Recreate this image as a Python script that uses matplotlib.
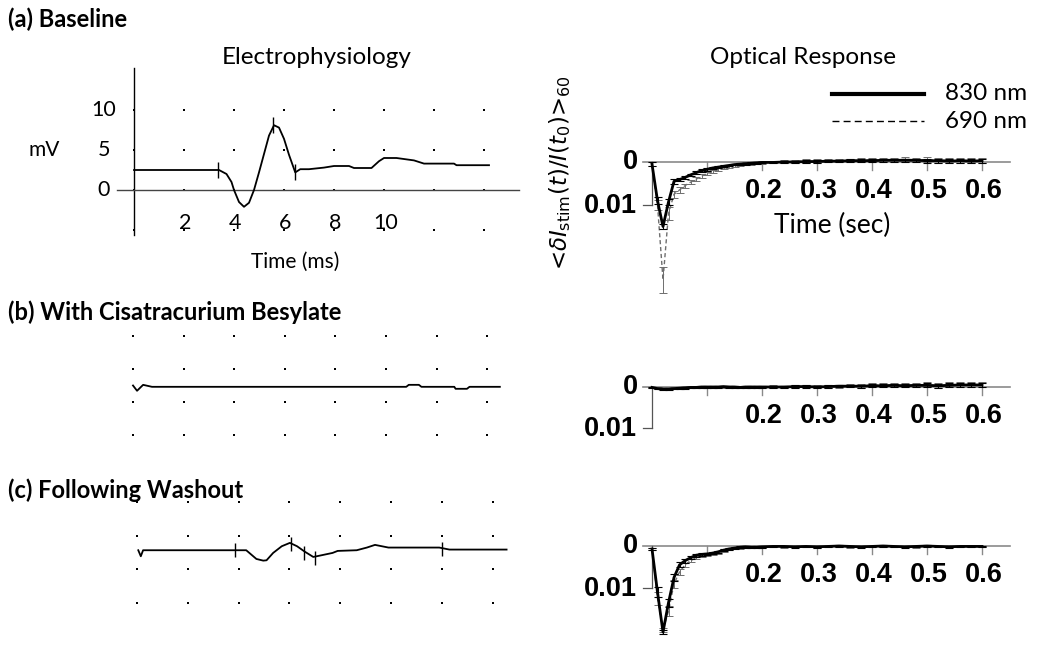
import numpy as np
import matplotlib
matplotlib.use("Agg")
import matplotlib.pyplot as plt
from matplotlib.lines import Line2D

# ---------------- data ----------------
# Electrophysiology traces (time in ms, amplitude in mV)
ephys_a_t = [0.0, 3.4, 3.7, 3.9, 4.0, 4.2, 4.4, 4.6, 4.8, 5.0, 5.2, 5.4, 5.6, 5.8, 6.0, 6.2,
             6.45, 6.65, 7.0, 7.6, 8.0, 8.6, 8.8, 9.5, 9.8, 10.0, 10.5, 11.2, 11.6, 12.8, 12.9, 14.2]
ephys_a_v = [2.5, 2.5, 2.0, 1.0, 0.0, -1.5, -2.1, -1.6, 0.0, 2.2, 4.5, 6.8, 8.1, 7.8, 6.4, 4.4,
             2.2, 2.6, 2.6, 2.8, 3.0, 3.0, 2.75, 2.75, 3.6, 4.0, 4.0, 3.7, 3.3, 3.3, 3.1, 3.1]
ephys_a_marks_t = [3.36, 5.57, 6.44]
ephys_a_marks_v = [2.5, 8.1, 2.3]

ephys_b_t = [0.0, 0.16, 0.4, 0.75, 10.8, 10.9, 11.3, 11.4, 12.7, 12.75, 13.2, 13.3, 14.5]
ephys_b_v = [2.5, 1.7, 2.6, 2.3, 2.3, 2.6, 2.6, 2.3, 2.3, 2.0, 2.0, 2.3, 2.3]

ephys_c_t = [0.05, 0.15, 0.24, 3.8, 4.3, 4.7, 4.97, 5.1, 5.36, 5.7, 6.02, 6.3, 6.6, 6.94, 7.2,
             7.7, 7.9, 8.65, 9.05, 9.37, 9.9, 11.9, 12.3, 14.55]
ephys_c_v = [2.8, 1.9, 2.8, 2.8, 2.8, 1.5, 1.25, 1.3, 2.4, 3.4, 3.9, 3.4, 2.6, 1.8, 2.0,
             2.4, 2.7, 2.8, 3.2, 3.6, 3.2, 3.2, 2.9, 2.9]
ephys_c_marks_t = [3.86, 6.05, 6.57, 7.0, 12.0]
ephys_c_marks_v = [2.8, 3.7, 2.4, 1.7, 3.0]

grid_cols_ms = [0, 2, 4, 6, 8, 10, 12, 14]
grid_rows_mv = [10, 5, 0, -5]
ephys_yticks = [10, 5, 0]
ephys_xticks = [2, 4, 6, 8, 10]

# Optical response (time in s, <dI/I> shown positive downward)
t_opt = [0.00, 0.01, 0.02, 0.03, 0.04, 0.05, 0.06, 0.07, 0.08, 0.09, 0.10,
         0.11, 0.12, 0.13, 0.14, 0.15, 0.16, 0.17, 0.18, 0.19, 0.20,
         0.22, 0.24, 0.26, 0.28, 0.30, 0.32, 0.34, 0.36, 0.38, 0.40,
         0.42, 0.44, 0.46, 0.48, 0.50, 0.52, 0.54, 0.56, 0.58, 0.60]

a_830 = [0.0005, 0.0090, 0.0150, 0.0093, 0.0045, 0.0041, 0.0036, 0.0030, 0.0025, 0.0020, 0.0017,
         0.0014, 0.0012, 0.0010, 0.0008, 0.0006, 0.0005, 0.0004, 0.0003, 0.0002, 0.0001,
         0.0001, 0.0000, 0.0000, -0.0001, -0.0001, -0.0002, -0.0002, -0.0003, -0.0003, -0.0003,
         -0.0004, -0.0004, -0.0004, -0.0004, -0.0003, -0.0003, -0.0002, -0.0003, -0.0002, -0.0003]
a_830_err = [0.0004, 0.0008, 0.0005, 0.0006, 0.0005, 0.0004, 0.0004, 0.0003, 0.0003, 0.0003, 0.0003,
             0.0003, 0.0002, 0.0002, 0.0002, 0.0002, 0.0002, 0.0002, 0.0002, 0.0002, 0.0002,
             0.0002, 0.0002, 0.0003, 0.0003, 0.0003, 0.0003, 0.0003, 0.0003, 0.0004, 0.0004,
             0.0004, 0.0004, 0.0004, 0.0004, 0.0005, 0.0005, 0.0005, 0.0005, 0.0005, 0.0005]
a_690 = [0.0005, 0.0100, 0.0274, 0.0120, 0.0075, 0.0065, 0.0055, 0.0047, 0.0040, 0.0033, 0.0027,
         0.0022, 0.0018, 0.0014, 0.0011, 0.0008, 0.0006, 0.0004, 0.0003, 0.0002, 0.0001,
         0.0000, -0.0001, -0.0001, -0.0002, -0.0002, -0.0003, -0.0003, -0.0004, -0.0004, -0.0005,
         -0.0005, -0.0005, -0.0006, -0.0005, -0.0005, -0.0004, -0.0004, -0.0004, -0.0003, -0.0003]
a_690_err = [0.0004, 0.0012, 0.0030, 0.0015, 0.0008, 0.0006, 0.0005, 0.0005, 0.0004, 0.0004, 0.0004,
             0.0004, 0.0003, 0.0003, 0.0003, 0.0003, 0.0003, 0.0003, 0.0003, 0.0003, 0.0003,
             0.0003, 0.0003, 0.0003, 0.0004, 0.0004, 0.0004, 0.0004, 0.0004, 0.0005, 0.0005,
             0.0005, 0.0005, 0.0005, 0.0005, 0.0006, 0.0006, 0.0006, 0.0006, 0.0006, 0.0006]

b_830 = [0.0001, 0.0004, 0.0005, 0.0005, 0.0004, 0.0003, 0.0002, 0.0001, 0.0001, 0.0000, 0.0000,
         0.0000, 0.0000, -0.0001, 0.0000, 0.0000, 0.0001, 0.0000, 0.0000, 0.0000, 0.0000,
         0.0000, 0.0000, -0.0001, -0.0001, 0.0000, -0.0001, -0.0002, -0.0002, -0.0002, -0.0003,
         -0.0003, -0.0004, -0.0003, -0.0004, -0.0004, -0.0003, -0.0004, -0.0005, -0.0005, -0.0005]
b_830_err = [0.0002, 0.0002, 0.0002, 0.0002, 0.0002, 0.0002, 0.0002, 0.0002, 0.0002, 0.0002, 0.0002,
             0.0002, 0.0002, 0.0002, 0.0002, 0.0002, 0.0002, 0.0002, 0.0002, 0.0002, 0.0002,
             0.0002, 0.0003, 0.0003, 0.0003, 0.0003, 0.0003, 0.0003, 0.0003, 0.0004, 0.0004,
             0.0004, 0.0004, 0.0004, 0.0004, 0.0005, 0.0005, 0.0005, 0.0005, 0.0005, 0.0005]
b_690 = [0.0001, 0.0003, 0.0004, 0.0004, 0.0003, 0.0002, 0.0001, 0.0001, 0.0000, 0.0000, 0.0000,
         -0.0001, 0.0000, 0.0000, -0.0001, 0.0000, 0.0000, 0.0000, -0.0001, 0.0000, 0.0000,
         -0.0001, 0.0000, -0.0001, -0.0002, -0.0001, -0.0002, -0.0002, -0.0003, -0.0003, -0.0004,
         -0.0004, -0.0005, -0.0004, -0.0005, -0.0005, -0.0004, -0.0005, -0.0006, -0.0005, -0.0006]
b_690_err = [0.0002, 0.0002, 0.0002, 0.0002, 0.0002, 0.0002, 0.0002, 0.0002, 0.0002, 0.0002, 0.0002,
             0.0002, 0.0002, 0.0002, 0.0002, 0.0002, 0.0002, 0.0002, 0.0002, 0.0002, 0.0003,
             0.0003, 0.0003, 0.0003, 0.0003, 0.0004, 0.0004, 0.0004, 0.0004, 0.0005, 0.0005,
             0.0005, 0.0005, 0.0005, 0.0005, 0.0006, 0.0006, 0.0006, 0.0006, 0.0006, 0.0006]

c_830 = [0.0007, 0.0110, 0.0205, 0.0135, 0.0075, 0.0045, 0.0035, 0.0028, 0.0022, 0.0020, 0.0019,
         0.0017, 0.0014, 0.0010, 0.0007, 0.0005, 0.0003, 0.0002, 0.0003, 0.0003, 0.0002,
         0.0001, 0.0001, 0.0002, 0.0001, 0.0002, 0.0001, 0.0000, 0.0001, 0.0002, 0.0001,
         0.0000, 0.0001, 0.0002, 0.0001, 0.0000, 0.0001, 0.0002, 0.0001, 0.0001, 0.0001]
c_830_err = [0.0003, 0.0012, 0.0004, 0.0010, 0.0008, 0.0006, 0.0005, 0.0004, 0.0003, 0.0003, 0.0003,
             0.0003, 0.0003, 0.0003, 0.0002, 0.0002, 0.0002, 0.0002, 0.0002, 0.0002, 0.0002,
             0.0002, 0.0002, 0.0002, 0.0002, 0.0002, 0.0002, 0.0002, 0.0002, 0.0002, 0.0002,
             0.0002, 0.0002, 0.0002, 0.0002, 0.0002, 0.0002, 0.0002, 0.0002, 0.0002, 0.0002]
c_690 = [0.0007, 0.0125, 0.0200, 0.0155, 0.0090, 0.0062, 0.0045, 0.0035, 0.0028, 0.0023, 0.0020,
         0.0018, 0.0015, 0.0011, 0.0008, 0.0006, 0.0004, 0.0003, 0.0003, 0.0002, 0.0002,
         0.0001, 0.0002, 0.0001, 0.0001, 0.0002, 0.0001, 0.0001, 0.0002, 0.0001, 0.0001,
         0.0001, 0.0001, 0.0001, 0.0002, 0.0001, 0.0001, 0.0001, 0.0001, 0.0001, 0.0001]
c_690_err = [0.0003, 0.0015, 0.0005, 0.0012, 0.0009, 0.0007, 0.0005, 0.0004, 0.0004, 0.0003, 0.0003,
             0.0003, 0.0003, 0.0003, 0.0002, 0.0002, 0.0002, 0.0002, 0.0002, 0.0002, 0.0002,
             0.0002, 0.0002, 0.0002, 0.0002, 0.0002, 0.0002, 0.0002, 0.0002, 0.0002, 0.0002,
             0.0002, 0.0002, 0.0002, 0.0002, 0.0002, 0.0002, 0.0002, 0.0002, 0.0002, 0.0002]

opt_xticks = [0.1, 0.2, 0.3, 0.4, 0.5, 0.6]
opt_xticklabels = ["", "0.2", "0.3", "0.4", "0.5", "0.6"]
panel_titles = ["(a) Baseline", "(b) With Cisatracurium Besylate", "(c) Following Washout"]

# ---------------- figure ----------------
W, H = 1050, 647
fig = plt.figure(figsize=(W / 100, H / 100), dpi=100)
SANS = ["Lato", "DejaVu Sans"]
ARIAL = ["Liberation Sans", "DejaVu Sans"]


def px_axes(x0, x1, y0, y1, xorig, xscale, yorig, yscale, invert=False):
    ax = fig.add_axes([x0 / W, 1 - y1 / H, (x1 - x0) / W, (y1 - y0) / H])
    ax.set_xlim((x0 - xorig) / xscale, (x1 - xorig) / xscale)
    if invert:
        ax.set_ylim((y1 - yorig) / yscale, (y0 - yorig) / yscale)
    else:
        ax.set_ylim((yorig - y1) / yscale, (yorig - y0) / yscale)
    ax.axis("off")
    ax.patch.set_alpha(0)
    return ax


def grid_dots(ax):
    gx, gy = np.meshgrid(grid_cols_ms, grid_rows_mv)
    ax.plot(gx.ravel(), gy.ravel(), ls="none", marker="s", ms=1.6, color="black", mew=0)


# ---- left: electrophysiology ----
ax_a = px_axes(20, 530, 40, 280, 134, 25.0, 190, 8.0)
grid_dots(ax_a)
ax_a.plot([0, 0], [-5.6, 15.25], color="black", lw=1.0)
ax_a.plot([-0.68, 15.4], [0, 0], color="#444444", lw=1.0)
ax_a.plot(ephys_a_t, ephys_a_v, color="black", lw=1.3)
ax_a.plot(ephys_a_marks_t, ephys_a_marks_v, ls="none", marker="|", ms=11, mew=1.0, color="black")
for v in ephys_yticks:
    ax_a.text(-1.2, v, str(v), ha="center", va="center", fontsize=15.5, family=SANS)
for x in ephys_xticks:
    ax_a.text(x + 0.05, -4.1, str(x), ha="center", va="center", fontsize=15.5, family=SANS)
ax_a.text(-3.6, 5.0, "mV", ha="center", va="center", fontsize=15, family=SANS)
ax_a.text(6.44, -9.0, "Time (ms)", ha="center", va="center", fontsize=15, family=SANS)

ax_b = px_axes(20, 530, 320, 455, 133, 25.3, 402, 6.6)
grid_dots(ax_b)
ax_b.plot(ephys_b_t, ephys_b_v, color="black", lw=1.3)

ax_c = px_axes(20, 530, 495, 625, 137, 25.4, 569, 6.7)
grid_dots(ax_c)
ax_c.plot(ephys_c_t, ephys_c_v, color="black", lw=1.3)
ax_c.plot(ephys_c_marks_t, ephys_c_marks_v, ls="none", marker="|", ms=10, mew=1.0, color="black")

# ---- right: optical response ----
def optical(ax, yscale, s830, e830, s690, e690):
    ax.plot([-0.016, 0.651], [0, 0], color="#8a8a8a", lw=1.2, zorder=1)
    ax.plot([0, 0], [0, 0.01], color="#555555", lw=0.9)
    ax.plot([-0.016, 0], [0.01, 0.01], color="#555555", lw=0.9)
    tl = 8 / yscale
    for x in opt_xticks:
        ax.plot([x, x], [0, tl], color="#8a8a8a", lw=1.0)
    for x, lab in zip(opt_xticks, opt_xticklabels):
        if lab:
            ax.text(x + 0.003, 29 / yscale, lab, ha="center", va="center", fontsize=19.5,
                    family=ARIAL, weight="bold")
    ax.text(-0.026, 0, "0", ha="right", va="center", fontsize=19.5, family=ARIAL, weight="bold")
    ax.text(-0.027, 0.0103, "0.01", ha="right", va="center", fontsize=19.5, family=ARIAL, weight="bold")
    ax.errorbar(t_opt, s690, yerr=e690, fmt="--", color="#6e6e6e", lw=1.0,
                elinewidth=0.7, capsize=3, capthick=0.7, dashes=(3, 2), zorder=2)
    ax.errorbar(t_opt, s830, yerr=e830, fmt="-", color="black", lw=2.0,
                elinewidth=0.8, capsize=3, capthick=0.8, zorder=3)


ax_ra = px_axes(540, 1045, 130, 310, 652, 550, 162, 4300, invert=True)
optical(ax_ra, 4300, a_830, a_830_err, a_690, a_690_err)
ax_ra.text(0.328, 63 / 4300, "Time (sec)", ha="center", va="center", fontsize=19, family=SANS)

ax_rb = px_axes(540, 1045, 360, 450, 652, 550, 387, 4100, invert=True)
optical(ax_rb, 4100, b_830, b_830_err, b_690, b_690_err)

ax_rc = px_axes(540, 1045, 520, 645, 652, 550, 546, 4200, invert=True)
optical(ax_rc, 4200, c_830, c_830_err, c_690, c_690_err)

# ---- titles, labels, legend ----
fig.text(317 / W, 1 - 57 / H, "Electrophysiology", ha="center", va="center", fontsize=17.5, family=SANS)
fig.text(803 / W, 1 - 57 / H, "Optical Response", ha="center", va="center", fontsize=17.5, family=SANS)
fig.text(560 / W, 1 - 173 / H, r"$\text{<}\delta I_{\rm stim}(t)/I(t_0)\text{>}_{60}$", rotation=90,
         ha="center", va="center", fontsize=16.5)

for ytxt, lab in zip([19, 312, 490], panel_titles):
    fig.text(8 / W, 1 - ytxt / H, lab, ha="left", va="center", fontsize=17, family=SANS, weight="bold")

fig.add_artist(Line2D([832 / W, 924 / W], [1 - 94 / H, 1 - 94 / H], transform=fig.transFigure,
                      color="black", lw=3.0))
fig.add_artist(Line2D([832 / W, 924 / W], [1 - 121 / H, 1 - 121 / H], transform=fig.transFigure,
                      color="black", lw=1.0, ls=(0, (5, 3))))
fig.text(945 / W, 1 - 94 / H, "830 nm", ha="left", va="center", fontsize=17.5, family=SANS)
fig.text(945 / W, 1 - 121 / H, "690 nm", ha="left", va="center", fontsize=17.5, family=SANS)

fig.savefig("out.png", dpi=100, facecolor="white")
